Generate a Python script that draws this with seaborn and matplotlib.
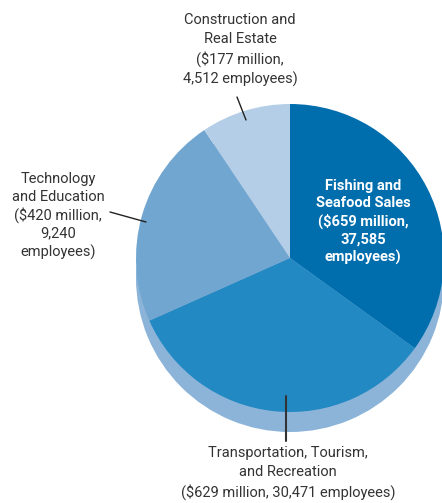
import matplotlib
matplotlib.use("Agg")
import matplotlib.pyplot as plt
import seaborn as sns

# Data (value in $ million, employees)
sectors = ["Fishing and Seafood Sales", "Transportation, Tourism, and Recreation",
           "Technology and Education", "Construction and Real Estate"]
sales = [659, 629, 420, 177]
employees = [37585, 30471, 9240, 4512]
colors = ["#006dad", "#2289c2", "#71a6d1", "#b4cee7"]

sns.set_theme(style="white")
plt.rcParams["font.family"] = ["Roboto", "DejaVu Sans"]

fig = plt.figure(figsize=(4.42, 5.03), dpi=100)
ax = fig.add_axes([0, 0, 1, 1])

H = 503
cx, cy, r = 290, H - 258, 154

# shadow under the pie
ax.pie([1], colors=["#8cb4d9"], center=(cx, cy - 20), radius=r,
       wedgeprops=dict(linewidth=0), frame=True)
ax.pie(sales, colors=colors, startangle=90, counterclock=False,
       center=(cx, cy), radius=r, wedgeprops=dict(linewidth=0), frame=True)
ax.set_xlim(0, 442)
ax.set_ylim(0, 503)
ax.set_aspect("equal")
ax.axis("off")

txt = "#333333"
fs = 10.5

def lbl(x, y, s, ls=1.4, **kw):
    ax.text(x, H - y, s, ha="center", va="center", fontsize=fs,
            color=kw.pop("color", txt), linespacing=ls, **kw)

lbl(240, 50, "Construction and\nReal Estate\n($%d million,\n%s employees)"
    % (sales[3], f"{employees[3]:,}"))
ax.plot([237, 246], [H - 97, H - 120], color="#222222", lw=1)

lbl(58, 216, "Technology\nand Education\n($%d million,\n%s\nemployees)"
    % (sales[2], f"{employees[2]:,}"), ls=1.3)
ax.plot([110, 146], [H - 212, H - 222], color="#222222", lw=1)

lbl(363, 222, "Fishing and\nSeafood Sales\n($%d million,\n%s\nemployees)"
    % (sales[0], f"{employees[0]:,}"), ls=1.3, color="white", fontweight="bold")

lbl(288, 473, "Transportation, Tourism,\nand Recreation\n($%d million, %s employees)"
    % (sales[1], f"{employees[1]:,}"))
ax.plot([286, 286], [H - 396, H - 441], color="#333333", lw=1.5)

fig.savefig("out.png", dpi=100)
